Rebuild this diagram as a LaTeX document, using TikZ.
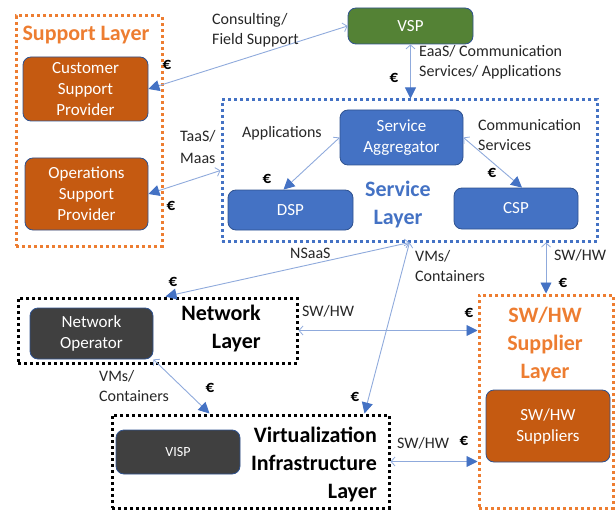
\documentclass[tikz,border=0pt]{standalone}
\usepackage{fontspec}
\setmainfont{Carlito}
\usetikzlibrary{arrows.meta}
\definecolor{orfill}{HTML}{C55A11}
\definecolor{orline}{HTML}{ED7D31}
\definecolor{blu}{HTML}{4472C4}
\definecolor{bluedge}{HTML}{2F528F}
\definecolor{grn}{HTML}{548235}
\definecolor{drk}{HTML}{404040}
\definecolor{arr}{HTML}{8FAADC}
\definecolor{txt}{HTML}{262626}
\tikzset{
  box/.style={rectangle, rounded corners=8pt, draw=bluedge, line width=0.8pt, text=white, align=center, font=\fontsize{17}{21}\selectfont, inner sep=0pt},
  obox/.style={box, fill=orfill},
  bbox/.style={box, fill=blu},
  gbox/.style={box, fill=grn},
  dbox/.style={box, fill=drk},
  layer/.style={rectangle, line width=3pt, dash pattern=on 3pt off 3pt, inner sep=0pt},
  olayer/.style={layer, draw=orline},
  blayer/.style={layer, draw=blu},
  klayer/.style={layer, draw=black},
  ltitle/.style={font=\fontsize{22}{28}\selectfont\bfseries, inner sep=0pt},
  lbl/.style={font=\fontsize{16}{20}\selectfont, text=txt, align=left, inner sep=0pt, anchor=west},
  euro/.style={font=\fontsize{17}{19}\selectfont\bfseries, text=black, inner sep=0pt},
  biarrow/.style={draw=arr, line width=0.9pt, {Straight Barb[length=4pt,width=9pt,line width=0.8pt]}-{Triangle[length=11pt,width=11pt,color=blu]}},
}
\begin{document}
\begin{tikzpicture}[x=1pt,y=-1pt]
\useasboundingbox (0,0) rectangle (615,513);
% layers
\node[olayer, minimum width=146pt, minimum height=230pt] (supL) at (89,131) {};
\node[blayer, minimum width=375pt, minimum height=141pt] (svcL) at (409.5,170.5) {};
\node[klayer, minimum width=279pt, minimum height=65pt] (netL) at (157.5,330.5) {};
\node[klayer, minimum width=277pt, minimum height=93pt] (virL) at (250.5,461.5) {};
\node[olayer, minimum width=134pt, minimum height=213pt] (hwL) at (546,401.5) {};
% boxes
\node[obox, minimum width=125pt, minimum height=64pt] (cus) at (85.5,89) {Customer\\Support\\Provider};
\node[obox, minimum width=123pt, minimum height=72pt] (ops) at (86.5,194) {Operations\\Support\\Provider};
\node[gbox, minimum width=125pt, minimum height=36pt] (vsp) at (410.5,26) {VSP};
\node[bbox, minimum width=123pt, minimum height=55pt] (sa) at (401.5,137.5) {Service\\Aggregator};
\node[bbox, minimum width=125pt, minimum height=40pt] (dsp) at (290.5,210) {DSP};
\node[bbox, minimum width=124pt, minimum height=41pt] (csp) at (516,208.5) {CSP};
\node[dbox, minimum width=123pt, minimum height=51pt] (nop) at (91.5,333.5) {Network\\Operator};
\node[dbox, minimum width=124pt, minimum height=44pt, font=\fontsize{14}{17}\selectfont] (visp) at (178,452) {VISP};
\node[obox, minimum width=124pt, minimum height=72pt] (hws) at (548,426) {SW/HW\\Suppliers};
% layer titles
\node[ltitle, text=orline] (tsup) at (86,35) {Support Layer};
\node[ltitle, text=blu, align=center] (tsvc) at (398,205) {Service\\Layer};
\node[ltitle, text=black, align=right, anchor=east] (tnet) at (261,329) {Network\\Layer};
\node[ltitle, text=black, align=right, anchor=east] (tvir) at (377,464) {Virtualization\\Infrastructure\\Layer};
\node[ltitle, text=orline, align=center] (thw) at (545,345) {SW/HW\\Supplier\\Layer};
% connectors
\draw[biarrow] (vsp.west) -- (cus.east);
\draw[biarrow] (svcL.west) -- (ops.east);
\draw[biarrow] (vsp.south) -- (vsp.south |- svcL.north);
\draw[biarrow] (sa.west) -- ([xshift=-7pt]dsp.north);
\draw[biarrow] (sa.east) -- ([xshift=6pt]csp.north);
\draw[biarrow] (svcL.south) -- ([xshift=8pt]netL.north);
\draw[biarrow] (svcL.south) -- ([xshift=-26pt]virL.north east);
\draw[biarrow] (hwL.north |- svcL.south) -- (hwL.north);
\draw[biarrow] (netL.east) -- (hwL.west |- netL.east);
\draw[biarrow] (nop.south east) -- ([xshift=99pt]virL.north west);
\draw[biarrow] (virL.east) -- (hwL.west |- virL.east);
% labels
\node[lbl] (l1) at (212,30) {Consulting/\\Field Support};
\node[lbl] (l2) at (419,62.5) {EaaS/ Communication\\Services/ Applications};
\node[lbl, font=\fontsize{16}{22}\selectfont] (l3) at (180,147) {TaaS/\\Maas};
\node[lbl] (l4) at (242,133) {Applications};
\node[lbl] (l5) at (478,135) {Communication\\Services};
\node[lbl] (l6) at (290,253) {NSaaS};
\node[lbl] (l7) at (415,266) {VMs/\\Containers};
\node[lbl] (l8) at (554,255) {SW/HW};
\node[lbl] (l9) at (302,311) {SW/HW};
\node[lbl] (l10) at (99,386) {VMs/\\Containers};
\node[lbl] (l11) at (397,443) {SW/HW};
% euros
\node[euro] (e1) at (167,65) {€};
\node[euro] (e2) at (171,206) {€};
\node[euro] (e3) at (267,179) {€};
\node[euro] (e4) at (394,78) {€};
\node[euro] (e5) at (492,173) {€};
\node[euro] (e6) at (173,282) {€};
\node[euro] (e7) at (210,388) {€};
\node[euro] (e8) at (355,397) {€};
\node[euro] (e9) at (563,283) {€};
\node[euro] (e10) at (469,313) {€};
\node[euro] (e11) at (464,441) {€};
\end{tikzpicture}
\end{document}
